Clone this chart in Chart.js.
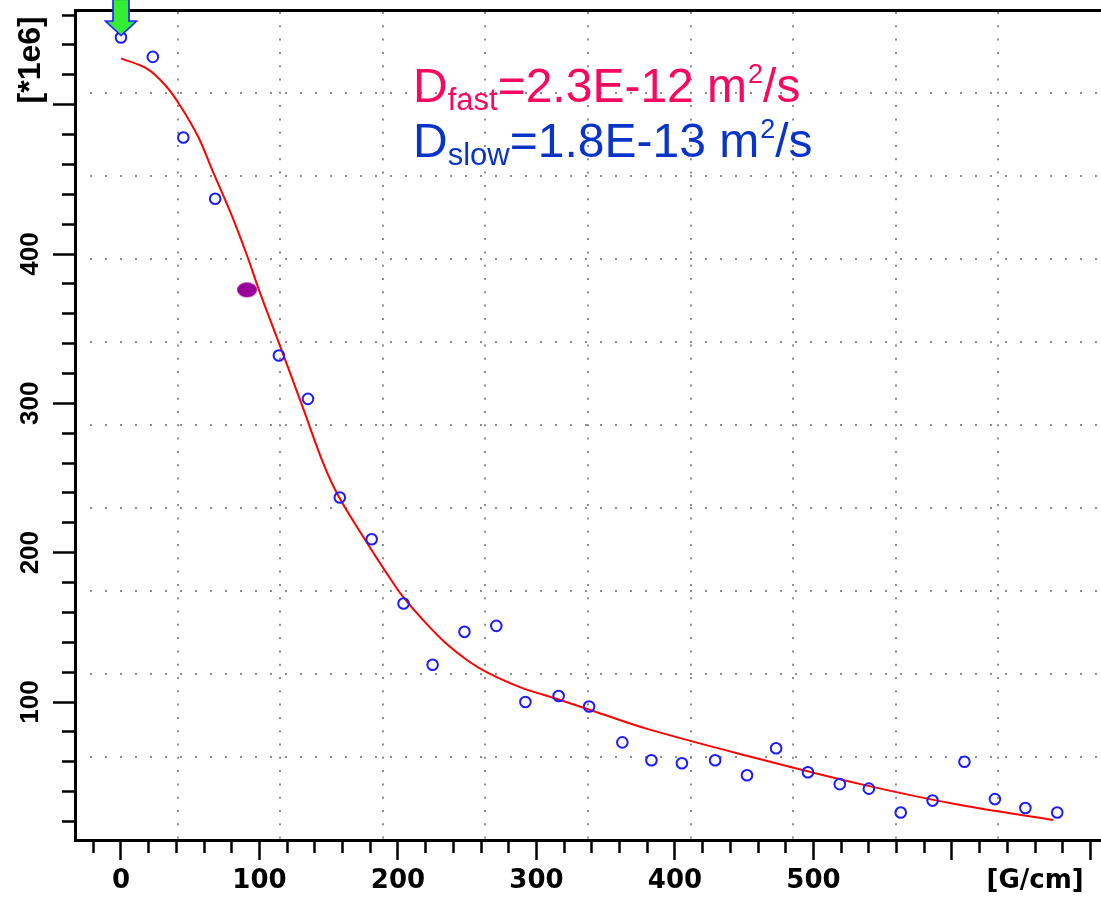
<!doctype html>
<html>

<head>
    <title>Decaimento de sinal - difusão</title>
    <script src="https://cdn.jsdelivr.net/npm/chart.js"></script>
    <style>
        html, body { margin: 0; padding: 0; background: #fff; overflow: hidden; }
    </style>
</head>

<body>
    <canvas id="grafico" width="1101" height="902"></canvas>

    <script>
        // gradiente [G/cm] x intensidade [*1e6]
        var gradiente = [0, 23, 45, 68, 114, 135, 158, 181, 204, 225, 248, 271, 292, 316, 338, 362, 383, 405, 429, 452, 473, 496, 519, 540, 563, 586, 609, 631, 653, 676];
        var intensidade = [545, 532, 478, 437, 332, 303, 237, 209, 166, 125, 147, 151, 100, 104, 97, 73, 61, 59, 61, 51, 69, 53, 45, 42, 26, 34, 60, 35, 29, 26];

        // ponto selecionado (roxo) e marcador (seta verde)
        var selecionadoX = [91];
        var selecionadoY = [376];
        var setaX = [0];
        var setaY = [558];

        // curva ajustada (biexponencial)
        var ajusteX = [0, 19, 32, 43, 56, 66, 79, 91, 100, 113, 131, 146, 157, 176, 192, 204, 220, 235, 250, 264, 288, 315, 341, 380, 452, 534, 606, 673];
        var ajusteY = [531, 524, 513, 499, 478, 456, 428, 399, 375, 343, 298, 260, 238, 209, 186, 170, 153, 139, 128, 120, 110, 102, 94, 82, 64, 45, 31, 21];

        var xMin = -33.2, xMax = 707.6;
        var yMin = 7.6, yMax = 563.4;

        var textos = [
            { base: 'D', sub: 'fast', valor: '=2.3E-12 m', sup: '2', fim: '/s', cor: '#f8085f' },
            { base: 'D', sub: 'slow', valor: '=1.8E-13 m', sup: '2', fim: '/s', cor: '#0a34c8' }
        ];

        function pares(xs, ys) {
            return xs.map((x, i) => ({ x: x, y: ys[i] }));
        }

        function criarSeta() {
            var c = document.createElement('canvas');
            c.width = 34;
            c.height = 38;
            var g = c.getContext('2d');
            g.beginPath();
            g.moveTo(9, 0);
            g.lineTo(25, 0);
            g.lineTo(25, 22);
            g.lineTo(32.5, 22);
            g.lineTo(17, 36.5);
            g.lineTo(1.5, 22);
            g.lineTo(9, 22);
            g.closePath();
            g.fillStyle = '#33ee33';
            g.fill();
            g.lineWidth = 1.6;
            g.strokeStyle = '#1a1aff';
            g.stroke();
            return c;
        }

        function criarElipse() {
            var c = document.createElement('canvas');
            c.width = 22;
            c.height = 17;
            var g = c.getContext('2d');
            g.beginPath();
            g.ellipse(11, 8.5, 10, 7.5, 0, 0, 2 * Math.PI);
            g.fillStyle = '#990099';
            g.fill();
            return c;
        }

        var textoPlugin = {
            id: 'textoD',
            afterDatasetsDraw(chart) {
                var ctx = chart.ctx;
                var area = chart.chartArea;
                var x0 = area.left + 338;
                var bases = [area.top + 92, area.top + 147];
                ctx.save();
                ctx.textBaseline = 'alphabetic';
                ctx.textAlign = 'left';
                textos.forEach((t, i) => {
                    var x = x0;
                    var y = bases[i];
                    ctx.fillStyle = t.cor;
                    ctx.font = '48px "Liberation Sans", Arial, sans-serif';
                    ctx.fillText(t.base, x, y);
                    x += ctx.measureText(t.base).width;
                    ctx.font = '31px "Liberation Sans", Arial, sans-serif';
                    ctx.fillText(t.sub, x, y + 8);
                    x += ctx.measureText(t.sub).width;
                    ctx.font = '48px "Liberation Sans", Arial, sans-serif';
                    ctx.fillText(t.valor, x, y);
                    x += ctx.measureText(t.valor).width;
                    ctx.font = '27px "Liberation Sans", Arial, sans-serif';
                    ctx.fillText(t.sup, x + 1, y - 19);
                    x += ctx.measureText(t.sup).width + 1;
                    ctx.font = '48px "Liberation Sans", Arial, sans-serif';
                    ctx.fillText(t.fim, x, y);
                });
                ctx.restore();
            }
        };

        function semPadding(s) {
            s.paddingTop = 0;
            s.paddingBottom = 0;
            s.paddingLeft = 0;
            s.paddingRight = 0;
        }

        var corGrade = ctx => (ctx.index === 0 || ctx.index === 10) ? 'rgba(0,0,0,0)' : '#8c8c8c';

        var grafico = new Chart(document.getElementById('grafico').getContext('2d'), {
            type: 'scatter',
            data: {
                datasets: [{
                    type: 'line',
                    label: 'ajuste',
                    data: pares(ajusteX, ajusteY),
                    borderColor: '#ff0000',
                    borderWidth: 2,
                    pointRadius: 0,
                    fill: false,
                    tension: 0.35,
                    xAxisID: 'x',
                    yAxisID: 'y',
                    order: 4
                }, {
                    label: 'dados',
                    data: pares(gradiente, intensidade),
                    pointStyle: 'circle',
                    pointRadius: 5.3,
                    borderWidth: 2,
                    borderColor: '#1c1cff',
                    backgroundColor: 'rgba(0,0,0,0)',
                    xAxisID: 'x',
                    yAxisID: 'y',
                    order: 3
                }, {
                    label: 'selecionado',
                    data: pares(selecionadoX, selecionadoY),
                    pointStyle: criarElipse(),
                    xAxisID: 'x',
                    yAxisID: 'y',
                    order: 2
                }, {
                    label: 'seta',
                    data: pares(setaX, setaY),
                    pointStyle: criarSeta(),
                    clip: false,
                    xAxisID: 'x',
                    yAxisID: 'y',
                    order: 1
                }]
            },
            options: {
                responsive: false,
                animation: false,
                layout: { padding: 0, autoPadding: false },
                plugins: {
                    legend: { display: false },
                    tooltip: { enabled: false }
                },
                scales: {
                    x: {
                        type: 'linear',
                        position: 'bottom',
                        min: xMin,
                        max: xMax,
                        afterFit: s => { s.height = 62; semPadding(s); },
                        border: { display: true, color: '#000', width: 3 },
                        grid: {
                            drawOnChartArea: false,
                            tickLength: 20,
                            tickWidth: 2.5,
                            tickColor: '#000',
                            tickBorderDash: ctx => (ctx.tick && ctx.tick.value % 100 === 0) ? [] : [11, 30]
                        },
                        ticks: {
                            stepSize: 20,
                            includeBounds: false,
                            autoSkip: false,
                            minRotation: 0,
                            maxRotation: 0,
                            padding: 6,
                            color: '#000',
                            font: { family: 'DejaVu Sans', weight: 'bold', size: 26 },
                            callback: v => v === 660 ? '[G/cm]' : ((v % 100 === 0 && v >= 0 && v <= 500) ? String(v) : '')
                        }
                    },
                    y: {
                        type: 'linear',
                        position: 'left',
                        min: yMin,
                        max: yMax,
                        afterFit: s => { s.width = 75; semPadding(s); },
                        border: { display: true, color: '#000', width: 3 },
                        grid: {
                            drawOnChartArea: false,
                            tickLength: 22,
                            tickWidth: 2.5,
                            tickColor: ctx => (ctx.tick && ctx.tick.value % 20 === 0) ? '#000' : 'rgba(0,0,0,0)',
                            tickBorderDash: ctx => (ctx.tick && ctx.tick.value % 100 === 0) ? [] : [0, 9, 14, 40]
                        },
                        ticks: {
                            stepSize: 10,
                            includeBounds: false,
                            autoSkip: false,
                            minRotation: 90,
                            maxRotation: 90,
                            crossAlign: 'center',
                            padding: -21.5,
                            color: '#000',
                            font: ctx => ({ family: 'Liberation Sans', weight: 'bold', size: (ctx.tick && ctx.tick.value === 530) ? 32 : 26 }),
                            callback: v => v === 530 ? '[*1e6]' : ((v % 100 === 0 && v <= 400) ? String(v) : '')
                        }
                    },
                    xg: {
                        type: 'linear',
                        position: 'top',
                        min: xMin,
                        max: xMax,
                        afterFit: s => { s.height = 10; semPadding(s); },
                        ticks: { display: false, count: 11 },
                        grid: { drawTicks: false, color: corGrade, lineWidth: 2 },
                        border: { display: true, color: '#000', width: 3, dash: [2, 11.3] }
                    },
                    yg: {
                        type: 'linear',
                        position: 'right',
                        min: yMin,
                        max: yMax,
                        afterFit: s => { s.width = 0; semPadding(s); },
                        ticks: { display: false, count: 11 },
                        grid: { drawTicks: false, color: corGrade, lineWidth: 2 },
                        border: { display: false, dash: [2, 13] }
                    }
                }
            },
            plugins: [textoPlugin]
        });
    </script>
</body>

</html>
